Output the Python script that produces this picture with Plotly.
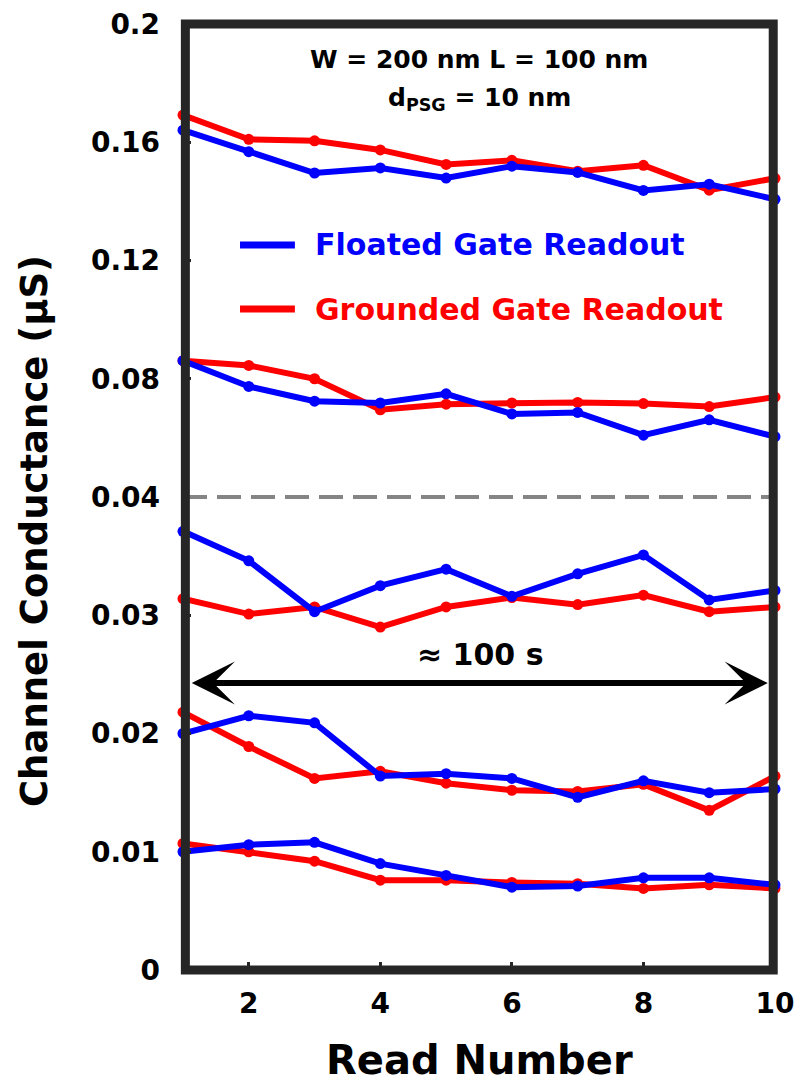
import plotly.graph_objects as go

# Read index shared by all traces
read_number = [1, 2, 3, 4, 5, 6, 7, 8, 9, 10]

# Upper panel (0.04 - 0.2 µS)
floated_high_1 = [0.1641, 0.1568, 0.1496, 0.1513, 0.1479, 0.1519, 0.1498, 0.1437, 0.1458, 0.1407]
grounded_high_1 = [0.1692, 0.1610, 0.1605, 0.1574, 0.1525, 0.1539, 0.1502, 0.1522, 0.1438, 0.1478]
floated_high_2 = [0.0861, 0.0774, 0.0724, 0.0718, 0.0749, 0.0681, 0.0686, 0.0609, 0.0661, 0.0604]
grounded_high_2 = [0.0861, 0.0845, 0.0800, 0.0695, 0.0714, 0.0718, 0.0720, 0.0716, 0.0706, 0.0738]

# Lower panel (0 - 0.04 µS)
floated_low_1 = [0.0371, 0.0346, 0.0303, 0.0325, 0.0339, 0.0316, 0.0335, 0.0351, 0.0313, 0.0321]
grounded_low_1 = [0.0314, 0.0301, 0.0307, 0.0290, 0.0307, 0.0315, 0.0309, 0.0317, 0.0303, 0.0307]
floated_low_2 = [0.0200, 0.0215, 0.0209, 0.0164, 0.0166, 0.0162, 0.0146, 0.0160, 0.0150, 0.0153]
grounded_low_2 = [0.0218, 0.0189, 0.0162, 0.0168, 0.0158, 0.0152, 0.0151, 0.0157, 0.0135, 0.0164]
floated_low_3 = [0.0100, 0.0106, 0.0108, 0.0090, 0.0080, 0.0070, 0.0071, 0.0078, 0.0078, 0.0072]
grounded_low_3 = [0.0107, 0.0100, 0.0092, 0.0076, 0.0076, 0.0074, 0.0073, 0.0069, 0.0072, 0.0069]

x_ticks = [2, 4, 6, 8, 10]
x_ticktext = ["2", "4", "6", "8", "10"]
lower_ticks = [0, 0.01, 0.02, 0.03]
lower_ticktext = ["0", "0.01", "0.02", "0.03"]
upper_ticks = [0.04, 0.08, 0.12, 0.16, 0.2]
upper_ticktext = ["0.04", "0.08", "0.12", "0.16", "0.2"]

legend_names = ["Floated Gate Readout", "Grounded Gate Readout"]
BLUE = "#0000ff"
RED = "#ff0000"
FRAME = "#262626"
FONT = "DejaVu Sans"

fig = go.Figure()


def add_series(values, color, yaxis):
    fig.add_trace(go.Scatter(
        x=read_number, y=values, mode="lines+markers", yaxis=yaxis,
        line=dict(color=color, width=6),
        marker=dict(color=color, size=11),
        showlegend=False, cliponaxis=False,
    ))


for vals in (grounded_high_1, grounded_high_2):
    add_series(vals, RED, "y2")
for vals in (floated_high_1, floated_high_2):
    add_series(vals, BLUE, "y2")
for vals in (grounded_low_1, grounded_low_2, grounded_low_3):
    add_series(vals, RED, "y")
for vals in (floated_low_1, floated_low_2, floated_low_3):
    add_series(vals, BLUE, "y")

tick_font = dict(family=FONT, size=28, color="black", weight="bold")
axis_common = dict(
    ticks="inside", ticklen=8, tickwidth=3, tickcolor=FRAME,
    showgrid=False, zeroline=False, showline=False,
    tickfont=tick_font, automargin=False,
)

fig.update_layout(
    width=798, height=1082,
    margin=dict(l=183, r=23, t=24, b=112),
    paper_bgcolor="white", plot_bgcolor="white",
    font=dict(family=FONT, weight="bold", color="black"),
    xaxis=dict(range=[1, 10], tickvals=x_ticks, ticktext=x_ticktext,
               ticklabelstandoff=14, anchor="y", **axis_common),
    yaxis=dict(domain=[0, 0.5], range=[0, 0.04],
               tickvals=lower_ticks, ticktext=lower_ticktext,
               ticklabelstandoff=22, anchor="x", **axis_common),
    yaxis2=dict(domain=[0.5, 1], range=[0.04, 0.2],
                tickvals=upper_ticks, ticktext=upper_ticktext,
                ticklabelstandoff=22, anchor="x", **axis_common),
)

# Axis break marker at 0.04 (boundary between the two y scales)
fig.add_shape(type="line", xref="paper", yref="paper", x0=0, x1=1, y0=0.5, y1=0.5,
              line=dict(color="#858585", width=4, dash="24px,10px"), layer="above")

# Heavy plot frame
fig.add_shape(type="rect", xref="paper", yref="paper", x0=0.004, x1=0.997, y0=0, y1=1.0,
              line=dict(color=FRAME, width=9), layer="above")

# Legend samples
legend_y = [0.7664, 0.6987]
for name, color, ly in zip(legend_names, [BLUE, RED], legend_y):
    fig.add_shape(type="line", xref="paper", yref="paper", x0=0.0963, x1=0.189, y0=ly, y1=ly,
                  line=dict(color=color, width=7))
    fig.add_annotation(xref="paper", yref="paper", x=0.2196, y=ly, xanchor="left", yanchor="middle",
                       text=name, showarrow=False,
                       font=dict(family=FONT, size=30, color=color, weight="bold"))

# Device geometry note
fig.add_annotation(xref="paper", yref="paper", x=0.5, y=0.962, xanchor="center", yanchor="middle",
                   text="W = 200 nm L = 100 nm", showarrow=False,
                   font=dict(family=FONT, size=25, color="black", weight="bold"))
fig.add_annotation(xref="paper", yref="paper", x=0.5, y=0.9207, xanchor="center", yanchor="middle",
                   text="d<sub>PSG</sub> = 10 nm", showarrow=False,
                   font=dict(family=FONT, size=25, color="black", weight="bold"))

# Time span arrow
fig.add_annotation(x=9.89, y=0.02427, ax=1.11, ay=0.02427, xref="x", yref="y", axref="x", ayref="y",
                   text="", showarrow=True, arrowhead=3, startarrowhead=3, arrowside="end+start",
                   arrowwidth=6, arrowsize=1.2, startarrowsize=1.2, arrowcolor="black",
                   standoff=0, startstandoff=0)
fig.add_annotation(xref="paper", yref="paper", x=0.503, y=0.333, xanchor="center", yanchor="middle",
                   text="≈ 100 s", showarrow=False,
                   font=dict(family=FONT, size=30, color="black", weight="bold"))

# Axis titles
fig.add_annotation(xref="paper", yref="paper", x=0.5, y=-0.0951, xanchor="center", yanchor="middle",
                   text="Read Number", showarrow=False,
                   font=dict(family=FONT, size=40, color="black", weight="bold"))
fig.add_annotation(xref="paper", yref="paper", x=-0.2517, y=0.464, xanchor="center", yanchor="middle",
                   text="Channel Conductance (µS)", textangle=-90, showarrow=False,
                   font=dict(family=FONT, size=37, color="black", weight="bold"))

fig.write_html("out.html")
